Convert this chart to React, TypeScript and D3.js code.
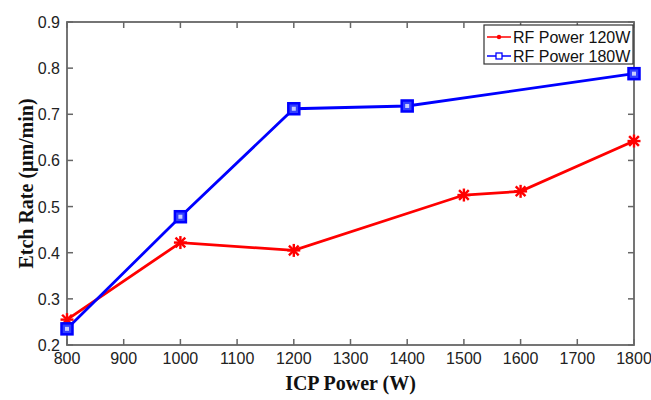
import React from 'react';
import * as d3 from 'd3';

const power120 = [800, 1000, 1200, 1500, 1600, 1800];
const rate120 = [0.255, 0.422, 0.405, 0.525, 0.533, 0.642];
const power180 = [800, 1000, 1200, 1400, 1800];
const rate180 = [0.235, 0.478, 0.712, 0.718, 0.788];
const xTicks = [800, 900, 1000, 1100, 1200, 1300, 1400, 1500, 1600, 1700, 1800];
const yTicks = [0.2, 0.3, 0.4, 0.5, 0.6, 0.7, 0.8, 0.9];
const legendLabels = ['RF Power 120W', 'RF Power 180W'];

const W = 651;
const H = 400;
const left = 67, right = 634, top = 22, bottom = 345;

export default function App() {
  const x = d3.scaleLinear().domain([800, 1800]).range([left, right]);
  const y = d3.scaleLinear().domain([0.2, 0.9]).range([bottom, top]);
  const line = d3.line<[number, number]>().x(d => x(d[0])).y(d => y(d[1]));
  const pts120 = power120.map((p, i) => [p, rate120[i]] as [number, number]);
  const pts180 = power180.map((p, i) => [p, rate180[i]] as [number, number]);
  const axisColor = '#666';
  const tickFont = 'Liberation Sans, Arial, sans-serif';

  const star = (cx: number, cy: number, k: number) => {
    const r = 6.5;
    return (
      <g key={k} stroke="#ff0000" strokeWidth={2.4}>
        <line x1={cx - r} y1={cy} x2={cx + r} y2={cy} />
        <line x1={cx} y1={cy - r} x2={cx} y2={cy + r} />
        <line x1={cx - r * 0.75} y1={cy - r * 0.75} x2={cx + r * 0.75} y2={cy + r * 0.75} />
        <line x1={cx - r * 0.75} y1={cy + r * 0.75} x2={cx + r * 0.75} y2={cy - r * 0.75} />
      </g>
    );
  };

  return (
    <svg width={W} height={H} style={{ position: 'absolute', left: 0, top: 0, background: '#fff' }}>
      <rect x={0} y={0} width={W} height={H} fill="#fff" />
      {/* ticks inside, on all four sides */}
      {xTicks.map(t => (
        <g key={'x' + t} stroke={axisColor} strokeWidth={1.5}>
          <line x1={x(t)} x2={x(t)} y1={bottom} y2={bottom - 6} />
          <line x1={x(t)} x2={x(t)} y1={top} y2={top + 6} />
        </g>
      ))}
      {yTicks.map(t => (
        <g key={'y' + t} stroke={axisColor} strokeWidth={1.5}>
          <line x1={left} x2={left + 6} y1={y(t)} y2={y(t)} />
          <line x1={right} x2={right - 6} y1={y(t)} y2={y(t)} />
        </g>
      ))}
      <rect x={left} y={top} width={right - left} height={bottom - top} fill="none" stroke={axisColor} strokeWidth={1.8} />
      {xTicks.map(t => (
        <text key={'xl' + t} x={x(t)} y={bottom + 19} textAnchor="middle" fontFamily={tickFont} fontSize={16} fill="#222">{t}</text>
      ))}
      {yTicks.map(t => (
        <text key={'yl' + t} x={left - 7} y={y(t) + 6} textAnchor="end" fontFamily={tickFont} fontSize={16} fill="#222">{t.toFixed(1)}</text>
      ))}
      <text x={(left + right) / 2} y={390} textAnchor="middle" fontFamily="Liberation Serif, Times New Roman, serif" fontWeight="bold" fontSize={20} fill="#111">ICP Power (W)</text>
      <text transform={`translate(33,${(top + bottom) / 2}) rotate(-90)`} textAnchor="middle" fontFamily="Liberation Serif, Times New Roman, serif" fontWeight="bold" fontSize={20} fill="#111">Etch Rate (μm/min)</text>

      <path d={line(pts120) || ''} fill="none" stroke="#ff0000" strokeWidth={2.8} />
      <path d={line(pts180) || ''} fill="none" stroke="#0000ff" strokeWidth={2.8} />
      {pts120.map((d, i) => star(x(d[0]), y(d[1]), i))}
      {pts180.map((d, i) => (
        <g key={'s' + i}>
          <rect x={x(d[0]) - 5.5} y={y(d[1]) - 5.5} width={11} height={11} fill="#3340ff" stroke="#0000ff" strokeWidth={2.5} />
          <rect x={x(d[0]) - 2} y={y(d[1]) - 2} width={4} height={4} fill="#c8ccff" />
        </g>
      ))}

      {/* legend */}
      <rect x={484} y={25} width={149} height={39} fill="#fff" stroke="#333" strokeWidth={1.2} />
      <line x1={487} x2={511} y1={37} y2={37} stroke="#ff0000" strokeWidth={1.5} />
      <circle cx={499} cy={37} r={2.2} fill="#ff0000" />
      <line x1={487} x2={511} y1={56} y2={56} stroke="#0000ff" strokeWidth={1.5} />
      <rect x={496} y={53} width={6} height={6} fill="#fff" stroke="#0000ff" strokeWidth={1.3} />
      {legendLabels.map((l, i) => (
        <text key={l} x={513} y={42.5 + i * 19} fontFamily={tickFont} fontSize={16} fill="#111">{l}</text>
      ))}
    </svg>
  );
}
